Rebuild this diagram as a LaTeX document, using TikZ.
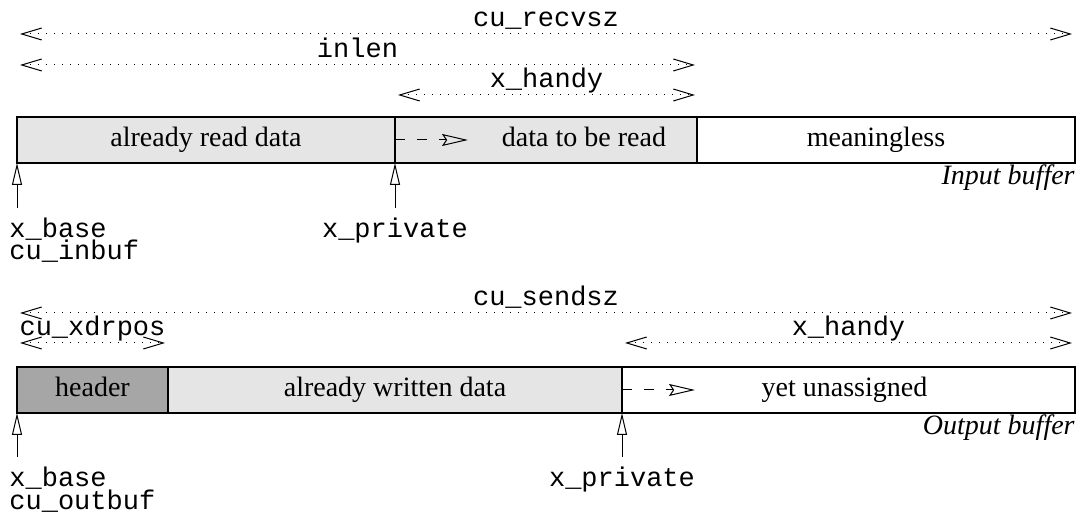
\documentclass[tikz,border=0pt]{standalone}
\usepackage{fontspec}
\setmainfont{Liberation Serif}
\setmonofont{Liberation Mono}
\usetikzlibrary{arrows.meta,positioning}
\newcommand{\segfont}{\fontsize{14}{16}\selectfont}
\newcommand{\codefont}{\ttfamily\fontsize{13.5}{15}\selectfont}
\tikzset{
    seg/.style={
    rectangle,draw=black,line width=0.7pt,minimum height=23pt,inner sep=0pt,outer sep=0pt,font=\segfont,text height=9.5pt,text depth=3pt
    },
    segread/.style={
    seg,fill=black!10
    },
    seghead/.style={
    seg,fill=black!35
    },
    segtext/.style={font=\segfont,text height=9.5pt,text depth=3pt,inner sep=0pt},
  dimline/.style={draw, line width=0.5pt, dash pattern=on 0.6pt off 3.4pt, {Straight Barb[length=10pt,width=6pt]}-{Straight Barb[length=10pt,width=6pt]}},
  dimlabel/.style={anchor=base, yshift=3.5pt, inner sep=0pt, font=\codefont},
  ptr/.style={draw, line width=0.5pt, -{Triangle[open,length=11pt,width=5pt]}},
  growline/.style={draw, line width=0.5pt, dash pattern=on 5pt off 6pt, -{Stealth[open,length=13pt,width=6pt,inset=2pt]}},
  ptrlabel/.style={anchor=base west, inner sep=0pt, font=\codefont},
  ptrlabelc/.style={anchor=base, inner sep=0pt, font=\codefont},
  bufname/.style={anchor=base east, inner sep=0pt, font=\itshape\segfont}
}

\begin{document}
\begin{tikzpicture}[x=0.5pt,y=-0.5pt]
    \useasboundingbox (0,0) rectangle (1082,517);

    \node[segread,minimum width=189pt,anchor=north west] (inread) at (17,117) {already read data};
    \node[segread,minimum width=151pt,right=0pt of inread,label={[segtext,xshift=19pt]center:data to be read}] (intoread) {};
    \node[seg,minimum width=189pt,right=0pt of intoread,label={[segtext,xshift=-5pt]center:meaningless}] (inrest) {};
    \node[bufname] (inname) at (1075,185) {Input buffer};

    \node[seghead,minimum width=75.5pt,anchor=north west] (outhead) at (17,367) {header};
    \node[segread,minimum width=227pt,right=0pt of outhead] (outwritten) {already written data};
    \node[seg,minimum width=226.5pt,right=0pt of outwritten,label={[segtext,xshift=-2pt]center:yet unassigned}] (outrest) {};
    \node[bufname] (outname) at (1075,435) {Output buffer};

    \coordinate (recvszL) at (20,34);
    \coordinate (recvszR) at (1072,34);
    \coordinate (inlenL) at (20,65);
    \coordinate (inlenR) at (695,65);
    \coordinate (inhandyL) at (398,95);
    \coordinate (inhandyR) at (695,95);
    \coordinate (sendszL) at (20,313);
    \coordinate (sendszR) at (1072,313);
    \coordinate (xdrposL) at (20,343);
    \coordinate (xdrposR) at (165,343);
    \coordinate (outhandyL) at (625,343);
    \coordinate (outhandyR) at (1072,343);

    \coordinate (inbasept) at (17,208);
    \coordinate (inprivpt) at (395,208);
    \coordinate (outbasept) at (17,457);
    \coordinate (outprivpt) at (622,457);
    \coordinate (ingrowend) at (468,140);
    \coordinate (outgrowend) at (695,390);

    \node[ptrlabel] (inbase) at (9,238) {x\_base};
    \node[ptrlabel] (inbuf) at (9,260) {cu\_inbuf};
    \node[ptrlabelc] (inpriv) at (395,238) {x\_private};
    \node[ptrlabel] (outbase) at (9,487) {x\_base};
    \node[ptrlabel] (outbuf) at (9,510) {cu\_outbuf};
    \node[ptrlabelc] (outpriv) at (622,487) {x\_private};

    \path[dimline] (recvszL) -- node[dimlabel] {cu\_recvsz} (recvszR);
    \path[dimline] (inlenL) -- node[dimlabel] {inlen} (inlenR);
    \path[dimline] (inhandyL) -- node[dimlabel] {x\_handy} (inhandyR);
    \path[dimline] (sendszL) -- node[dimlabel] {cu\_sendsz} (sendszR);
    \path[dimline] (xdrposL) -- node[dimlabel] {cu\_xdrpos} (xdrposR);
    \path[dimline] (outhandyL) -- node[dimlabel] {x\_handy} (outhandyR);

    \path[ptr] (inbasept) -- (inread.south west);
    \path[ptr] (inprivpt) -- (intoread.south west);
    \path[ptr] (outbasept) -- (outhead.south west);
    \path[ptr] (outprivpt) -- (outrest.south west);

    \path[growline] (intoread.west) -- (ingrowend);
    \path[growline] (outrest.west) -- (outgrowend);

  \end{tikzpicture}
\end{document}
